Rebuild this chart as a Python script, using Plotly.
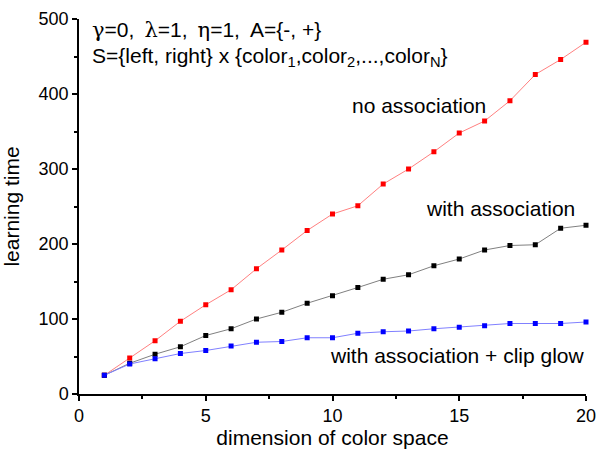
import plotly.graph_objects as go

# dimension of the colour space
dimension = list(range(1, 21))

# learning time for each learning variant
no_association = [25, 48, 71, 97, 119, 139, 167, 192, 218, 240,
                  251, 280, 300, 323, 348, 364, 391, 426, 446, 469]
with_association = [25, 41, 53, 63, 78, 87, 100, 109, 121, 131,
                    142, 153, 159, 171, 180, 192, 198, 199, 221, 225]
with_clip_glow = [25, 40, 47, 54, 58, 64, 69, 70, 75, 75,
                  81, 83, 84, 87, 89, 91, 94, 94, 94, 96]

x_ticks = [0, 5, 10, 15, 20]
y_ticks = [0, 100, 200, 300, 400, 500]

FONT = "Liberation Sans, Arial, sans-serif"
SERIF = "DejaVu Serif"

fig = go.Figure()


def add_series(values, line_color, marker_color):
    fig.add_trace(go.Scatter(
        x=dimension, y=values, mode="lines+markers",
        line=dict(color=line_color, width=1),
        marker=dict(symbol="square", size=5, color=marker_color,
                    line=dict(width=0)),
        showlegend=False, cliponaxis=False,
    ))


add_series(no_association, "#ff8080", "#ff0000")
add_series(with_association, "#808080", "#000000")
add_series(with_clip_glow, "#8080ff", "#0000ff")


def g(ch):
    return f"<span style='font-family:{SERIF}'>{ch}</span>"


SP = "\u2009"  # thin space after the parameter separators

annotations = [
    dict(x=0.42, y=485, xanchor="left", yanchor="middle",
         text=f"{g('γ')}=0,{SP} {g('λ')}=1,{SP} {g('η')}=1,{SP} A={{-, +}}"),
    dict(x=0.42, y=449, xanchor="left", yanchor="middle",
         text="S={left, right} x {color<sub>1</sub>,color<sub>2</sub>,...,color<sub>N</sub>}"),
    dict(x=16.15, y=385, xanchor="right", yanchor="middle", text="no association"),
    dict(x=19.65, y=248, xanchor="right", yanchor="middle", text="with association"),
    dict(x=20, y=52, xanchor="right", yanchor="middle", xshift=1,
         text="with association + clip glow"),
]
for a in annotations:
    fig.add_annotation(xref="x", yref="y", showarrow=False,
                       font=dict(family=FONT, size=21, color="black"), **a)

axis_common = dict(
    showgrid=False, zeroline=False, showline=True, linecolor="black",
    linewidth=1.5, ticks="outside", ticklen=5, tickwidth=1.5,
    tickcolor="black", tickfont=dict(family=FONT, size=18, color="black"),
    mirror=False, automargin=False,
)

fig.update_xaxes(
    range=[0, 20], tickvals=x_ticks, ticktext=[str(v) for v in x_ticks],
    title=dict(text="dimension of color space",
               font=dict(family=FONT, size=21, color="black"), standoff=4),
    minor=dict(ticks="outside", ticklen=3, tickwidth=1.5, tickcolor="black",
               dtick=2.5, tick0=0),
    **axis_common,
)
fig.update_yaxes(
    range=[0, 500], tickvals=y_ticks, ticktext=[str(v) for v in y_ticks],
    title=dict(text="learning time",
               font=dict(family=FONT, size=21, color="black"), standoff=17),
    minor=dict(ticks="outside", ticklen=3, tickwidth=1.5, tickcolor="black",
               dtick=50, tick0=0),
    **axis_common,
)

fig.update_layout(
    width=598, height=451,
    margin=dict(l=79, r=12, t=19, b=57, pad=0),
    paper_bgcolor="white", plot_bgcolor="white",
    font=dict(family=FONT, color="black"),
)

fig.write_html("out.html")
